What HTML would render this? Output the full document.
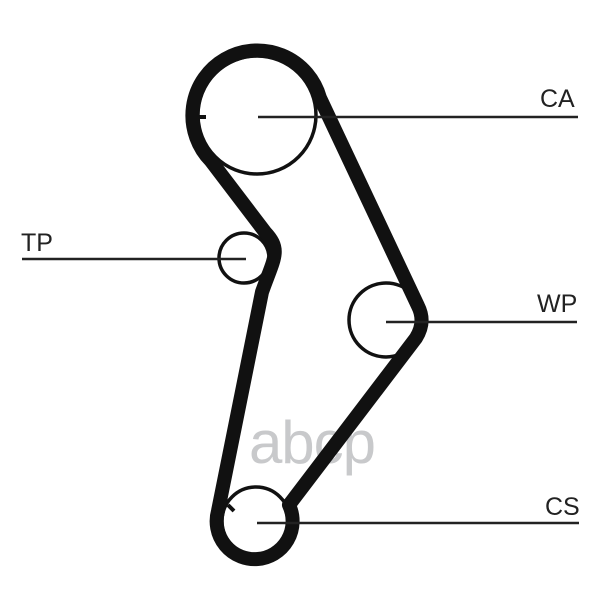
<!DOCTYPE html>
<html><head><meta charset="utf-8"><style>
html,body{margin:0;padding:0;background:#fff;}
svg{display:block;}
text{font-family:"Liberation Sans",sans-serif;fill:#222;}
</style></head><body>
<svg width="600" height="600" viewBox="0 0 600 600" xmlns="http://www.w3.org/2000/svg">
<text x="312" y="463" font-size="60" text-anchor="middle" style="fill:#c8c9cb" letter-spacing="-1">abcp</text>
<g fill="none" stroke="#111">
<circle cx="257" cy="115" r="59" stroke-width="3.5"/>
<circle cx="244" cy="258" r="25" stroke-width="3.5"/>
<circle cx="386" cy="320" r="37" stroke-width="3.5"/>
<circle cx="256" cy="521" r="34" stroke-width="3.5"/>
<path d="M211,161 A65 65 0 1 1 320,98 L418,306 Q426,322 416,338 L289,505 A38 38 0 1 1 218,511 L262,292 C274,258 282,250 265,232 Z" stroke-width="14" stroke-linejoin="round"/>
<line x1="198" y1="117" x2="206" y2="117" stroke-width="4"/>
<line x1="228" y1="505" x2="234" y2="511" stroke-width="4"/>
</g>
<g stroke="#222" stroke-width="2.5">
<line x1="258" y1="117" x2="578" y2="117"/>
<line x1="22" y1="259" x2="246" y2="259"/>
<line x1="386" y1="322" x2="577" y2="322"/>
<line x1="257" y1="523" x2="579" y2="523"/>
</g>
<text x="540" y="107" font-size="25">CA</text>
<text x="21" y="251" font-size="25">TP</text>
<text x="537" y="312" font-size="25">WP</text>
<text x="545" y="515" font-size="25">CS</text>
</svg>
</body></html>
